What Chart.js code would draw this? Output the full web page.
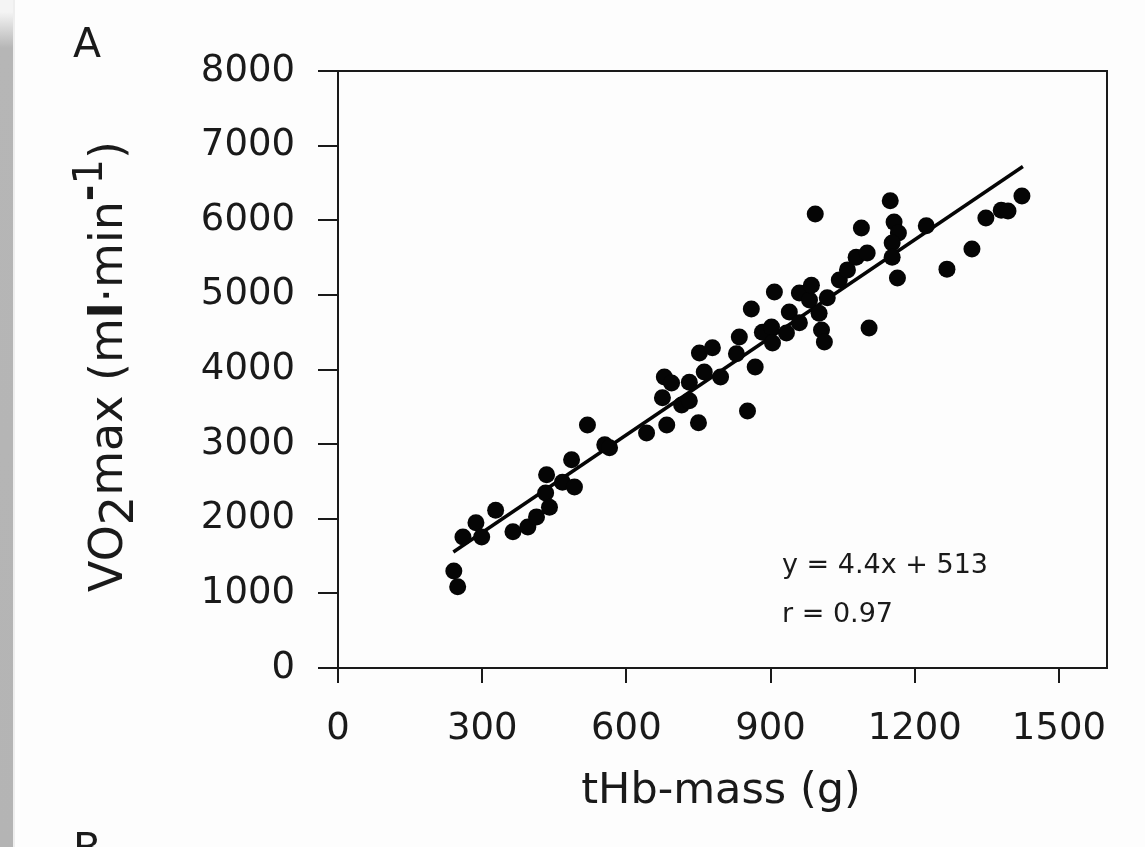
<!DOCTYPE html>
<html>
<head>
<meta charset="utf-8">
<title>VO2max vs tHb-mass</title>
<script src="https://cdn.jsdelivr.net/npm/chart.js@4.4.1/dist/chart.umd.min.js"></script>
<style>
  html, body { margin: 0; padding: 0; background: #fdfdfd; }
  #wrap { position: relative; width: 1145px; height: 847px; overflow: hidden; }
  #strip { position: absolute; left: 0; top: 0; width: 13px; height: 847px;
           background: linear-gradient(to bottom, #f4f4f4 0px, #f4f4f4 12px, #b6b6b6 48px, #b4b4b4 100%); }
  #edge { position: absolute; left: 13px; top: 0; width: 2px; height: 847px; background: #eeeeee; }
  canvas { position: absolute; left: 0; top: 0; }
</style>
</head>
<body>
<div id="wrap">
  <div id="strip"></div>
  <div id="edge"></div>
  <canvas id="chart" width="1145" height="847"></canvas>
</div>
<script>
// values (tHb-mass in g, VO2max in ml/min)
const hbMass = [241, 249, 260, 287, 299, 328, 364, 395, 413, 434, 432, 440, 467, 486, 492,
  519, 555, 565, 642, 684, 750, 675, 679, 694, 715, 731, 731, 752, 779, 762, 796, 852,
  829, 835, 868, 860, 883, 902, 904, 908, 933, 939, 960, 960, 981, 985, 1001, 1006,
  1012, 993, 1043, 1060, 1078, 1089, 1101, 1105, 1149, 1157, 1166, 1153, 1153, 1164,
  1224, 1267, 1319, 1348, 1380, 1394, 1423, 1018];
const vo2max = [1300, 1090, 1755, 1945, 1755, 2115, 1825, 1890, 2025, 2590, 2345, 2155,
  2490, 2790, 2425, 3255, 2990, 2950, 3150, 3255, 3285, 3620, 3900, 3820, 3525, 3580,
  3830, 4220, 4290, 3965, 3900, 3445, 4210, 4435, 4035, 4810, 4500, 4570, 4355, 5040,
  4490, 4770, 4625, 5025, 4930, 5130, 4755, 4530, 4370, 6085, 5200, 5335, 5505, 5895,
  5560, 4555, 6260, 5975, 5830, 5695, 5505, 5225, 5925, 5345, 5615, 6030, 6135, 6125,
  6325, 4960];

// regression line end points
const fitX = [240, 1425];
const fitY = [1555, 6720];

const xTicks = [0, 300, 600, 900, 1200, 1500];
const yTicks = [0, 1000, 2000, 3000, 4000, 5000, 6000, 7000, 8000];

const FONT = "'DejaVu Sans', sans-serif";
const INK = '#1a1a1a';

const points = hbMass.map((x, i) => ({ x: x, y: vo2max[i] }));
const fitLine = fitX.map((x, i) => ({ x: x, y: fitY[i] }));

const panelText = {
  id: 'panelText',
  afterDraw(chart) {
    const ctx = chart.ctx;
    const a = chart.chartArea;
    ctx.save();

    // top and right sides of the frame
    ctx.strokeStyle = INK;
    ctx.lineWidth = 2;
    ctx.beginPath();
    ctx.moveTo(a.left, a.top);
    ctx.lineTo(a.right, a.top);
    ctx.lineTo(a.right, a.bottom);
    ctx.stroke();

    ctx.fillStyle = INK;
    ctx.textBaseline = 'alphabetic';

    // panel letters
    ctx.font = '41px ' + FONT;
    ctx.textAlign = 'left';
    ctx.fillText('A', 73, 57);
    ctx.fillText('B', 73, 862);

    // x axis title
    ctx.font = '43px ' + FONT;
    ctx.textAlign = 'center';
    ctx.fillText('tHb-mass (g)', 721, 803);

    // equation
    ctx.font = '27px ' + FONT;
    ctx.textAlign = 'left';
    ctx.fillText('y = 4.4x + 513', 782, 573);
    ctx.fillText('r = 0.97', 782, 622);

    // y axis title with sub/superscript
    ctx.translate(122, 592);
    ctx.rotate(-Math.PI / 2);
    let pos = 0;
    const put = (t, font, dy) => {
      ctx.font = font;
      ctx.fillText(t, pos, dy);
      pos += ctx.measureText(t).width;
    };
    put('VO', '46px ' + FONT, 0);
    put('2', '46px ' + FONT, 11);
    put('max (m', '46px ' + FONT, 0);
    put('l', 'bold 46px ' + FONT, 0);
    put('\u00b7min', '46px ' + FONT, 0);
    put('-', 'bold 40px ' + FONT, -20);
    put('1', '40px ' + FONT, -20);
    put(')', '46px ' + FONT, 0);

    ctx.restore();
  }
};

new Chart(document.getElementById('chart'), {
  type: 'scatter',
  data: {
    datasets: [{
      label: 'subjects',
      data: points,
      pointRadius: 8.5,
      pointBackgroundColor: '#050505',
      pointBorderWidth: 0,
      showLine: false
    }, {
      label: 'fit',
      data: fitLine,
      showLine: true,
      pointRadius: 0,
      borderColor: '#050505',
      borderWidth: 3.5
    }]
  },
  options: {
    responsive: false,
    animation: false,
    devicePixelRatio: 1,
    layout: { padding: { top: 71, right: 38, left: 0, bottom: 0 } },
    plugins: { legend: { display: false }, tooltip: { enabled: false } },
    scales: {
      x: {
        type: 'linear',
        min: 0,
        max: 1600,
        afterBuildTicks: s => { s.ticks = xTicks.map(v => ({ value: v })); },
        afterFit: s => { s.height = 179; },
        border: { display: true, color: INK, width: 2 },
        grid: { drawOnChartArea: false, drawTicks: true, tickLength: 15, color: INK, lineWidth: 2 },
        ticks: { color: INK, padding: 24, font: { family: FONT, size: 37 }, maxRotation: 0,
                 callback: v => String(v) }
      },
      y: {
        type: 'linear',
        min: 0,
        max: 8000,
        afterBuildTicks: s => { s.ticks = yTicks.map(v => ({ value: v })); },
        afterFit: s => { s.width = 338; },
        border: { display: true, color: INK, width: 2 },
        grid: { drawOnChartArea: false, drawTicks: true, tickLength: 20, color: INK, lineWidth: 2 },
        ticks: { color: INK, padding: 23, font: { family: FONT, size: 37 },
                 callback: v => String(v) }
      }
    }
  },
  plugins: [panelText]
});
</script>
</body>
</html>
